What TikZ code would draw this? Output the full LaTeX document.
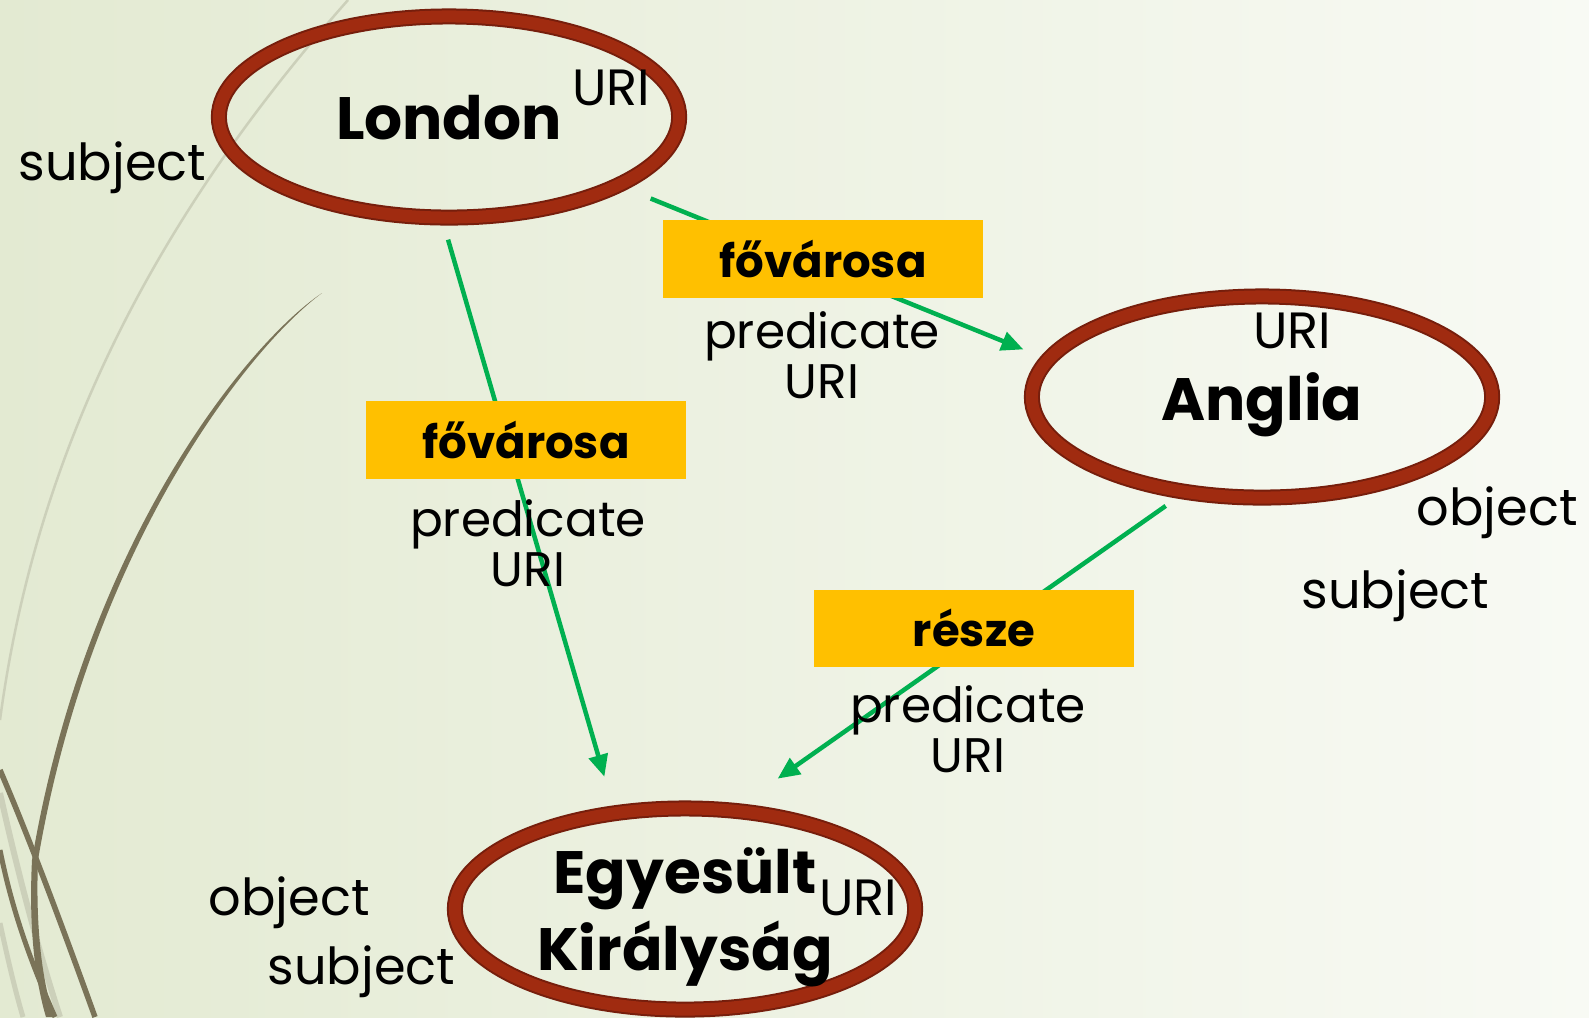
\documentclass[tikz,border=0pt]{standalone}
\usepackage{fontspec}
\setmainfont{Poppins}
\usetikzlibrary{arrows.meta,shapes.geometric}

\begin{document}
\begin{tikzpicture}[x=0.01cm,y=-0.01cm,
  entity/.style={ellipse,draw=rustdark,line width=0.02cm,double=rust,
    double distance=0.12cm,minimum width=4.6cm,minimum height=2.01cm,
    inner sep=0pt,align=center,text depth=0pt,
    font=\bfseries\fontsize{17}{22}\selectfont},
  predbox/.style={fill=labelyellow,minimum width=3.2cm,
    minimum height=0.77cm,inner sep=0pt,
    font=\bfseries\fontsize{12.8}{15}\selectfont},
  role/.style={anchor=base west,inner sep=0pt,
    font=\fontsize{14.5}{14}\selectfont},
  uri/.style={anchor=base,inner sep=0pt,
    font=\fontsize{14.5}{14}\selectfont},
  predlabel/.style={anchor=base,inner sep=0pt,align=center,
    font=\fontsize{13.8}{14}\selectfont},
  link/.style={draw=arrowgreen,line width=0.045cm,
    -{Triangle[length=0.22cm,width=0.19cm]}}]
 \definecolor{rust}{RGB}{160,43,16}
 \definecolor{rustdark}{RGB}{118,30,12}
 \definecolor{arrowgreen}{RGB}{0,176,80}
 \definecolor{labelyellow}{RGB}{255,192,0}
 \definecolor{bgleft}{RGB}{227,234,210}
 \definecolor{bgright}{RGB}{248,250,244}
 \definecolor{swirldark}{RGB}{122,115,88}
 \definecolor{swirllight}{RGB}{204,208,186}
 \useasboundingbox (0,0) rectangle (1589,1017);
 \shade[left color=bgleft,right color=bgright] (0,0) rectangle (1589,1017);
 % swirls on the left
 \draw[swirllight,line width=0.025cm]
   (348,0) .. controls (180,190) and (40,420) .. (0,720);
 \draw[swirllight,line width=0.06cm]
   (0,793) .. controls (15,860) and (35,940) .. (60,1017);
 \draw[swirllight,line width=0.05cm]
   (0,923) .. controls (8,960) and (15,990) .. (23,1017);
 \fill[swirldark]
   (322,293) .. controls (245,345) and (85,545) .. (32,860)
   .. controls (28,940) and (38,990) .. (46,1017) -- (54,1017)
   .. controls (45,990) and (35,940) .. (38,860)
   .. controls (91,547) and (249,347) .. (322,293);
 \draw[swirldark,line width=0.055cm]
   (0,770) .. controls (30,840) and (60,920) .. (95,1017);
 \draw[swirldark,line width=0.05cm]
   (0,850) .. controls (12,910) and (30,960) .. (55,1017);
 % resources
 \node[entity] (london) at (449,117) {London};
 \node[entity] (anglia) at (1262,397) {Anglia};
 \node[entity] (uk) at (685,909) {Egyesült\\Királyság};
 % links
 \draw[link,shorten <=0.34cm,shorten >=0.26cm] (london.-22) -- (anglia.170);
 \draw[link,shorten <=0.22cm,shorten >=0.37cm] (london.-94) -- (uk.126);
 \draw[link,shorten <=0.23cm,shorten >=0.54cm] (anglia.231) -- (uk.64);
 % predicates
 \foreach \nm/\xp/\yp/\txt in {capa/823/259/fővárosa,
   capb/526/440/fővárosa, part/974/628/része}
   \node[predbox] (\nm) at (\xp,\yp) {\txt};
 \foreach \nm/\xp/\yp in {capalbl/822/398, capblbl/528/586, partlbl/968/772}
   \node[predlabel] (\nm) at (\xp,\yp) {predicate\\URI};
 % URI tags
 \foreach \nm/\xp/\yp in {londonuri/611/105, angliauri/1292/348, ukuri/858/915}
   \node[uri] (\nm) at (\xp,\yp) {URI};
 % roles
 \foreach \nm/\xp/\yp/\txt in {londonsubj/18/180/subject,
   angliaobj/1416/525/object, angliasubj/1301/608/subject,
   ukobj/208/915/object, uksubj/267/984/subject}
   \node[role] (\nm) at (\xp,\yp) {\txt};
\end{tikzpicture}
\end{document}
